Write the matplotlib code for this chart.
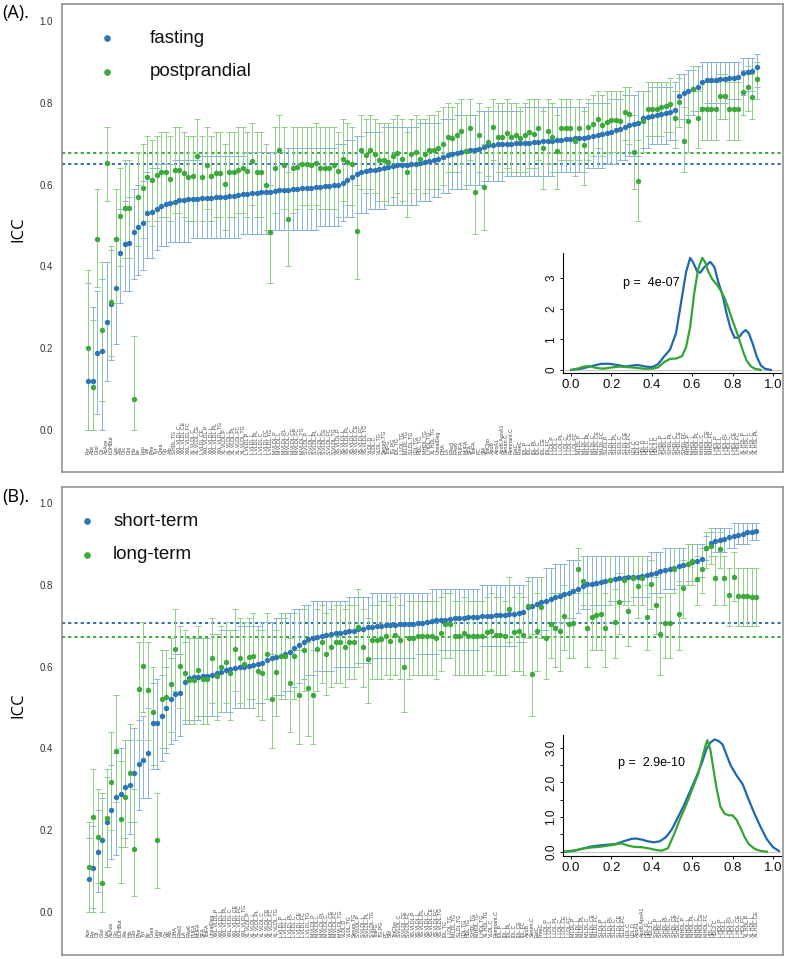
import numpy as np
import matplotlib
matplotlib.use("Agg")
import matplotlib.pyplot as plt

# ---------------- panel A: fasting vs postprandial (sorted by fasting ICC) ----------------
fast_icc = [0.120, 0.120, 0.189, 0.192, 0.263, 0.308, 0.346, 0.432, 0.456, 0.458,
            0.485, 0.497, 0.505, 0.530, 0.534, 0.540, 0.548, 0.552, 0.555, 0.558,
            0.562, 0.563, 0.564, 0.565, 0.566, 0.567, 0.567, 0.568, 0.569, 0.570,
            0.571, 0.572, 0.573, 0.574, 0.576, 0.578, 0.579, 0.580, 0.581, 0.582,
            0.583, 0.585, 0.586, 0.587, 0.588, 0.589, 0.590, 0.591, 0.592, 0.593,
            0.594, 0.595, 0.596, 0.597, 0.598, 0.600, 0.605, 0.612, 0.618, 0.626,
            0.630, 0.633, 0.635, 0.637, 0.639, 0.641, 0.643, 0.645, 0.647, 0.648,
            0.649, 0.650, 0.651, 0.653, 0.655, 0.658, 0.661, 0.664, 0.668, 0.672,
            0.675, 0.678, 0.680, 0.682, 0.684, 0.686, 0.688, 0.692, 0.697, 0.698,
            0.699, 0.699, 0.700, 0.700, 0.701, 0.701, 0.702, 0.703, 0.704, 0.705,
            0.706, 0.707, 0.708, 0.709, 0.710, 0.711, 0.712, 0.713, 0.714, 0.715,
            0.717, 0.719, 0.721, 0.724, 0.727, 0.730, 0.733, 0.737, 0.742, 0.746,
            0.748, 0.752, 0.762, 0.766, 0.768, 0.770, 0.772, 0.775, 0.778, 0.782,
            0.817, 0.824, 0.828, 0.833, 0.838, 0.852, 0.855, 0.856, 0.857, 0.858,
            0.859, 0.860, 0.861, 0.863, 0.873, 0.876, 0.878, 0.888]
fast_lo = [0.00, 0.00, 0.04, 0.00, 0.12, 0.17, 0.21, 0.31, 0.34, 0.34,
           0.37, 0.38, 0.39, 0.42, 0.42, 0.44, 0.45, 0.45, 0.46, 0.46,
           0.46, 0.46, 0.46, 0.47, 0.47, 0.47, 0.47, 0.47, 0.47, 0.47,
           0.47, 0.47, 0.47, 0.47, 0.48, 0.48, 0.48, 0.48, 0.48, 0.48,
           0.48, 0.49, 0.49, 0.49, 0.49, 0.49, 0.49, 0.49, 0.49, 0.49,
           0.49, 0.50, 0.50, 0.50, 0.50, 0.50, 0.51, 0.52, 0.52, 0.53,
           0.53, 0.53, 0.54, 0.54, 0.54, 0.54, 0.55, 0.55, 0.55, 0.55,
           0.55, 0.55, 0.55, 0.56, 0.56, 0.56, 0.57, 0.57, 0.58, 0.58,
           0.59, 0.59, 0.59, 0.60, 0.60, 0.60, 0.60, 0.61, 0.61, 0.61,
           0.61, 0.61, 0.62, 0.62, 0.62, 0.62, 0.62, 0.62, 0.62, 0.62,
           0.62, 0.62, 0.62, 0.63, 0.63, 0.63, 0.63, 0.63, 0.63, 0.63,
           0.64, 0.64, 0.64, 0.64, 0.65, 0.65, 0.65, 0.66, 0.66, 0.67,
           0.67, 0.67, 0.69, 0.69, 0.70, 0.70, 0.70, 0.70, 0.71, 0.71,
           0.76, 0.76, 0.77, 0.77, 0.78, 0.79, 0.80, 0.80, 0.80, 0.80,
           0.80, 0.81, 0.81, 0.81, 0.82, 0.83, 0.83, 0.84]
fast_hi = [0.36, 0.30, 0.34, 0.37, 0.41, 0.44, 0.47, 0.54, 0.56, 0.57,
           0.59, 0.60, 0.61, 0.63, 0.64, 0.64, 0.65, 0.65, 0.65, 0.66,
           0.66, 0.66, 0.66, 0.66, 0.66, 0.67, 0.67, 0.67, 0.67, 0.67,
           0.67, 0.67, 0.67, 0.67, 0.67, 0.68, 0.68, 0.68, 0.68, 0.68,
           0.68, 0.68, 0.68, 0.68, 0.69, 0.69, 0.69, 0.69, 0.69, 0.69,
           0.69, 0.69, 0.69, 0.69, 0.69, 0.70, 0.70, 0.71, 0.71, 0.72,
           0.72, 0.73, 0.73, 0.73, 0.73, 0.74, 0.74, 0.74, 0.74, 0.74,
           0.74, 0.74, 0.74, 0.75, 0.75, 0.75, 0.75, 0.75, 0.76, 0.76,
           0.76, 0.77, 0.77, 0.77, 0.77, 0.77, 0.78, 0.78, 0.78, 0.78,
           0.78, 0.78, 0.78, 0.78, 0.78, 0.78, 0.79, 0.79, 0.79, 0.79,
           0.79, 0.79, 0.79, 0.79, 0.79, 0.79, 0.79, 0.79, 0.79, 0.79,
           0.80, 0.80, 0.80, 0.80, 0.80, 0.81, 0.81, 0.81, 0.82, 0.82,
           0.82, 0.83, 0.83, 0.83, 0.84, 0.84, 0.84, 0.84, 0.84, 0.85,
           0.87, 0.87, 0.88, 0.88, 0.89, 0.90, 0.90, 0.90, 0.90, 0.90,
           0.90, 0.90, 0.90, 0.90, 0.91, 0.91, 0.91, 0.92]
post_icc = [0.201, 0.104, 0.467, 0.244, 0.654, 0.314, 0.466, 0.523, 0.544, 0.544,
            0.075, 0.570, 0.591, 0.619, 0.611, 0.623, 0.632, 0.630, 0.615, 0.635,
            0.637, 0.628, 0.619, 0.621, 0.670, 0.619, 0.648, 0.621, 0.628, 0.628,
            0.601, 0.632, 0.632, 0.636, 0.640, 0.634, 0.658, 0.632, 0.632, 0.599,
            0.485, 0.640, 0.685, 0.648, 0.515, 0.640, 0.644, 0.650, 0.650, 0.648,
            0.654, 0.641, 0.641, 0.641, 0.648, 0.633, 0.662, 0.656, 0.650, 0.487,
            0.685, 0.672, 0.685, 0.676, 0.660, 0.660, 0.656, 0.670, 0.678, 0.662,
            0.632, 0.675, 0.680, 0.662, 0.676, 0.685, 0.685, 0.689, 0.699, 0.717,
            0.713, 0.721, 0.731, 0.683, 0.738, 0.583, 0.721, 0.595, 0.705, 0.742,
            0.716, 0.717, 0.727, 0.717, 0.721, 0.713, 0.721, 0.729, 0.725, 0.738,
            0.689, 0.731, 0.717, 0.682, 0.738, 0.738, 0.738, 0.707, 0.738, 0.697,
            0.742, 0.748, 0.760, 0.746, 0.754, 0.758, 0.758, 0.756, 0.778, 0.774,
            0.680, 0.609, 0.756, 0.786, 0.786, 0.786, 0.789, 0.792, 0.797, 0.764,
            0.802, 0.707, 0.755, 0.835, 0.764, 0.784, 0.784, 0.784, 0.784, 0.817,
            0.817, 0.784, 0.784, 0.784, 0.827, 0.839, 0.815, 0.858]
post_lo = [0.00, 0.00, 0.35, 0.07, 0.56, 0.18, 0.31, 0.40, 0.42, 0.42,
           0.00, 0.45, 0.47, 0.51, 0.50, 0.51, 0.52, 0.52, 0.51, 0.53,
           0.53, 0.52, 0.51, 0.51, 0.57, 0.51, 0.54, 0.51, 0.52, 0.52,
           0.49, 0.52, 0.52, 0.53, 0.53, 0.52, 0.55, 0.52, 0.52, 0.49,
           0.36, 0.53, 0.59, 0.54, 0.40, 0.53, 0.54, 0.55, 0.55, 0.54,
           0.55, 0.54, 0.54, 0.54, 0.54, 0.52, 0.56, 0.55, 0.55, 0.37,
           0.59, 0.58, 0.59, 0.58, 0.56, 0.56, 0.55, 0.57, 0.58, 0.56,
           0.52, 0.58, 0.59, 0.56, 0.58, 0.59, 0.59, 0.59, 0.60, 0.63,
           0.63, 0.63, 0.65, 0.59, 0.66, 0.48, 0.63, 0.49, 0.62, 0.66,
           0.63, 0.63, 0.64, 0.63, 0.63, 0.63, 0.63, 0.64, 0.64, 0.66,
           0.59, 0.65, 0.63, 0.59, 0.66, 0.66, 0.66, 0.62, 0.66, 0.60,
           0.66, 0.67, 0.69, 0.67, 0.68, 0.68, 0.68, 0.68, 0.71, 0.70,
           0.59, 0.51, 0.68, 0.72, 0.72, 0.72, 0.72, 0.73, 0.73, 0.69,
           0.74, 0.63, 0.68, 0.78, 0.69, 0.71, 0.71, 0.71, 0.71, 0.76,
           0.76, 0.71, 0.71, 0.71, 0.77, 0.78, 0.76, 0.81]
post_hi = [0.39, 0.27, 0.59, 0.41, 0.74, 0.45, 0.59, 0.64, 0.66, 0.66,
           0.23, 0.68, 0.70, 0.72, 0.71, 0.72, 0.73, 0.73, 0.72, 0.74,
           0.74, 0.73, 0.72, 0.72, 0.76, 0.72, 0.74, 0.72, 0.73, 0.73,
           0.70, 0.73, 0.73, 0.74, 0.74, 0.73, 0.75, 0.73, 0.73, 0.70,
           0.60, 0.74, 0.77, 0.74, 0.63, 0.74, 0.74, 0.74, 0.74, 0.74,
           0.75, 0.74, 0.74, 0.74, 0.74, 0.73, 0.76, 0.75, 0.74, 0.60,
           0.77, 0.76, 0.77, 0.76, 0.75, 0.75, 0.75, 0.76, 0.77, 0.76,
           0.73, 0.76, 0.77, 0.76, 0.76, 0.77, 0.77, 0.78, 0.79, 0.80,
           0.79, 0.80, 0.81, 0.77, 0.81, 0.69, 0.80, 0.70, 0.79, 0.81,
           0.80, 0.80, 0.81, 0.80, 0.80, 0.79, 0.80, 0.81, 0.81, 0.81,
           0.78, 0.81, 0.80, 0.77, 0.81, 0.81, 0.81, 0.79, 0.81, 0.78,
           0.81, 0.82, 0.83, 0.82, 0.83, 0.83, 0.83, 0.83, 0.84, 0.84,
           0.77, 0.71, 0.83, 0.85, 0.85, 0.85, 0.85, 0.85, 0.86, 0.83,
           0.86, 0.79, 0.83, 0.89, 0.83, 0.85, 0.85, 0.85, 0.85, 0.87,
           0.87, 0.85, 0.85, 0.85, 0.88, 0.89, 0.87, 0.90]
labels_a = ["Pyr", "Ace", "Glol", "Cit", "AcAce", "bOHBut", "Lac", "Ala", "Glc", "Gln",
            "His", "Ile", "Leu", "Val", "Phe", "Tyr", "Crea", "Gp", "Alb", "S.HDL.TG",
            "XXL.VLDL.C", "XXL.VLDL.CE", "XXL.VLDL.FC", "XL.VLDL.C", "XL.VLDL.CE", "L.VLDL.CE", "XXL.VLDL.P", "XXL.VLDL.L", "XXL.VLDL.PL", "XXL.VLDL.TG",
            "XL.VLDL.P", "XL.VLDL.L", "XL.VLDL.PL", "XL.VLDL.FC", "XL.VLDL.TG", "L.VLDL.P", "L.VLDL.L", "L.VLDL.PL", "L.VLDL.C", "L.VLDL.FC",
            "L.VLDL.TG", "M.VLDL.P", "M.VLDL.L", "M.VLDL.PL", "M.VLDL.C", "M.VLDL.CE", "M.VLDL.FC", "M.VLDL.TG", "S.VLDL.P", "S.VLDL.L",
            "S.VLDL.PL", "S.VLDL.C", "S.VLDL.CE", "S.VLDL.FC", "S.VLDL.TG", "XS.VLDL.P", "XS.VLDL.L", "XS.VLDL.PL", "XS.VLDL.C", "XS.VLDL.CE",
            "XS.VLDL.FC", "XS.VLDL.TG", "VLDL.D", "VLDL.C", "VLDL.TG", "Serum.TG", "TotPG", "TG.PG", "IDL.TG", "L.LDL.TG",
            "M.LDL.TG", "S.LDL.TG", "LDL.TG", "HDL.TG", "M.HDL.TG", "L.HDL.TG", "XL.HDL.TG", "UnsatDeg", "DHA", "LA",
            "FAw3", "FAw6", "PUFA", "MUFA", "SFA", "TotFA", "PC", "SM", "TotCho", "ApoB",
            "ApoA1", "ApoB.ApoA1", "Serum.C", "Remnant.C", "EstC", "FreeC", "IDL.P", "IDL.L", "IDL.PL", "IDL.C",
            "IDL.CE", "IDL.FC", "L.LDL.P", "L.LDL.L", "L.LDL.PL", "L.LDL.C", "L.LDL.CE", "L.LDL.FC", "M.LDL.P", "M.LDL.L",
            "M.LDL.PL", "M.LDL.C", "M.LDL.CE", "M.LDL.FC", "S.LDL.P", "S.LDL.L", "S.LDL.PL", "S.LDL.C", "S.LDL.CE", "S.LDL.FC",
            "LDL.C", "LDL.D", "HDL.D", "HDL.C", "HDL2.C", "HDL3.C", "S.HDL.P", "S.HDL.L", "S.HDL.PL", "S.HDL.C",
            "S.HDL.CE", "S.HDL.FC", "M.HDL.P", "M.HDL.L", "M.HDL.PL", "M.HDL.C", "M.HDL.CE", "M.HDL.FC", "L.HDL.P", "L.HDL.L",
            "L.HDL.PL", "L.HDL.C", "L.HDL.CE", "L.HDL.FC", "XL.HDL.P", "XL.HDL.L", "XL.HDL.C", "XL.HDL.PL"]
mean_fast = 0.650
mean_post = 0.678
p_a = "p =  4e-07"

# density curves of the inset
dens_a_fast_x = [0.00, 0.05, 0.10, 0.15, 0.19, 0.23, 0.27, 0.30, 0.33, 0.37, 0.40, 0.43,
                 0.46, 0.49, 0.52, 0.55, 0.57, 0.59, 0.605, 0.625, 0.64, 0.66, 0.69,
                 0.71, 0.73, 0.75, 0.77, 0.79, 0.81, 0.83, 0.85, 0.865, 0.88, 0.90,
                 0.92, 0.94, 0.96, 0.99]
dens_a_fast_y = [0.00, 0.04, 0.12, 0.20, 0.20, 0.16, 0.11, 0.14, 0.16, 0.11, 0.09, 0.18,
                 0.43, 0.66, 1.20, 2.40, 3.20, 3.65, 3.50, 3.20, 3.17, 3.35, 3.52,
                 3.35, 2.85, 2.45, 1.85, 1.35, 1.05, 1.05, 1.22, 1.30, 1.20, 0.85,
                 0.43, 0.15, 0.04, 0.00]
dens_a_post_x = [0.00, 0.03, 0.06, 0.09, 0.12, 0.16, 0.20, 0.24, 0.28, 0.32, 0.36, 0.40,
                 0.43, 0.46, 0.49, 0.52, 0.55, 0.57, 0.59, 0.61, 0.63, 0.65, 0.665,
                 0.68, 0.70, 0.72, 0.74, 0.76, 0.78, 0.80, 0.82, 0.84, 0.855, 0.87,
                 0.89, 0.91, 0.94]
dens_a_post_y = [0.00, 0.04, 0.10, 0.13, 0.07, 0.04, 0.08, 0.11, 0.09, 0.07, 0.04, 0.04,
                 0.08, 0.25, 0.36, 0.37, 0.45, 0.75, 1.40, 2.50, 3.30, 3.65, 3.50,
                 3.20, 2.95, 2.80, 2.60, 2.35, 2.00, 1.60, 1.25, 0.85, 0.55, 0.30,
                 0.12, 0.04, 0.00]

# ---------------- panel B: short-term vs long-term (sorted by short-term ICC) ----------------
short_icc = [0.082, 0.108, 0.148, 0.176, 0.221, 0.249, 0.281, 0.288, 0.305, 0.310,
             0.339, 0.362, 0.372, 0.390, 0.461, 0.463, 0.479, 0.499, 0.522, 0.532,
             0.535, 0.563, 0.571, 0.574, 0.575, 0.576, 0.577, 0.580, 0.584, 0.588,
             0.592, 0.595, 0.597, 0.599, 0.600, 0.602, 0.604, 0.606, 0.610, 0.616,
             0.620, 0.623, 0.627, 0.631, 0.636, 0.645, 0.652, 0.660, 0.667, 0.670,
             0.673, 0.676, 0.678, 0.680, 0.681, 0.683, 0.684, 0.686, 0.688, 0.691,
             0.693, 0.696, 0.698, 0.699, 0.700, 0.701, 0.702, 0.702, 0.703, 0.704,
             0.704, 0.705, 0.706, 0.707, 0.709, 0.711, 0.713, 0.714, 0.715, 0.716,
             0.718, 0.719, 0.720, 0.721, 0.722, 0.722, 0.723, 0.724, 0.724, 0.725,
             0.725, 0.726, 0.728, 0.729, 0.731, 0.734, 0.745, 0.749, 0.753, 0.757,
             0.761, 0.765, 0.769, 0.773, 0.777, 0.781, 0.785, 0.789, 0.797, 0.801,
             0.803, 0.805, 0.807, 0.809, 0.811, 0.815, 0.816, 0.817, 0.818, 0.819,
             0.820, 0.822, 0.824, 0.827, 0.830, 0.833, 0.836, 0.839, 0.842, 0.846,
             0.849, 0.852, 0.856, 0.859, 0.862, 0.890, 0.903, 0.906, 0.909, 0.912,
             0.916, 0.920, 0.922, 0.925, 0.928, 0.930, 0.932]
short_lo = [0.00, 0.01, 0.05, 0.07, 0.11, 0.13, 0.14, 0.16, 0.18, 0.19,
            0.22, 0.25, 0.28, 0.28, 0.35, 0.35, 0.37, 0.39, 0.41, 0.42,
            0.43, 0.46, 0.47, 0.47, 0.47, 0.48, 0.48, 0.48, 0.48, 0.49,
            0.49, 0.49, 0.50, 0.50, 0.50, 0.50, 0.50, 0.51, 0.51, 0.52,
            0.52, 0.53, 0.53, 0.54, 0.54, 0.55, 0.56, 0.57, 0.58, 0.58,
            0.59, 0.59, 0.59, 0.59, 0.60, 0.60, 0.60, 0.60, 0.60, 0.61,
            0.61, 0.61, 0.62, 0.62, 0.62, 0.62, 0.62, 0.62, 0.62, 0.62,
            0.62, 0.62, 0.63, 0.63, 0.63, 0.63, 0.63, 0.64, 0.64, 0.64,
            0.64, 0.64, 0.64, 0.64, 0.64, 0.64, 0.65, 0.65, 0.65, 0.65,
            0.65, 0.65, 0.65, 0.65, 0.66, 0.66, 0.67, 0.68, 0.68, 0.69,
            0.69, 0.70, 0.70, 0.71, 0.71, 0.72, 0.72, 0.73, 0.74, 0.74,
            0.75, 0.75, 0.75, 0.75, 0.76, 0.76, 0.76, 0.76, 0.76, 0.77,
            0.77, 0.77, 0.77, 0.78, 0.78, 0.78, 0.79, 0.79, 0.79, 0.80,
            0.80, 0.81, 0.81, 0.81, 0.82, 0.86, 0.87, 0.88, 0.88, 0.88,
            0.89, 0.89, 0.90, 0.90, 0.90, 0.91, 0.91]
short_hi = [0.18, 0.21, 0.25, 0.28, 0.33, 0.36, 0.39, 0.40, 0.42, 0.42,
            0.45, 0.47, 0.48, 0.50, 0.56, 0.57, 0.58, 0.60, 0.62, 0.63,
            0.63, 0.66, 0.67, 0.67, 0.67, 0.67, 0.67, 0.68, 0.68, 0.69,
            0.69, 0.69, 0.69, 0.70, 0.70, 0.70, 0.70, 0.70, 0.71, 0.71,
            0.71, 0.72, 0.72, 0.72, 0.73, 0.74, 0.74, 0.75, 0.75, 0.76,
            0.76, 0.76, 0.76, 0.76, 0.76, 0.76, 0.76, 0.77, 0.77, 0.77,
            0.77, 0.77, 0.78, 0.78, 0.78, 0.78, 0.78, 0.78, 0.78, 0.78,
            0.78, 0.78, 0.78, 0.78, 0.78, 0.79, 0.79, 0.79, 0.79, 0.79,
            0.79, 0.79, 0.79, 0.79, 0.79, 0.79, 0.80, 0.80, 0.80, 0.80,
            0.80, 0.80, 0.80, 0.80, 0.80, 0.80, 0.81, 0.82, 0.82, 0.82,
            0.84, 0.84, 0.85, 0.85, 0.85, 0.86, 0.86, 0.86, 0.87, 0.87,
            0.87, 0.87, 0.87, 0.87, 0.87, 0.87, 0.87, 0.87, 0.87, 0.87,
            0.87, 0.87, 0.87, 0.88, 0.88, 0.88, 0.89, 0.89, 0.89, 0.89,
            0.89, 0.90, 0.90, 0.90, 0.90, 0.92, 0.93, 0.94, 0.94, 0.94,
            0.94, 0.95, 0.95, 0.95, 0.95, 0.95, 0.95]
long_icc = [0.111, 0.233, 0.184, 0.072, 0.229, 0.317, 0.393, 0.227, 0.282, 0.341,
            0.153, 0.544, 0.601, 0.543, 0.488, 0.177, 0.522, 0.525, 0.557, 0.642,
            0.602, 0.584, 0.567, 0.567, 0.592, 0.569, 0.569, 0.620, 0.577, 0.600,
            0.612, 0.584, 0.642, 0.620, 0.606, 0.623, 0.626, 0.590, 0.584, 0.630,
            0.521, 0.588, 0.626, 0.626, 0.559, 0.626, 0.531, 0.641, 0.547, 0.531,
            0.642, 0.659, 0.632, 0.649, 0.659, 0.659, 0.647, 0.661, 0.661, 0.698,
            0.647, 0.618, 0.665, 0.665, 0.667, 0.675, 0.663, 0.677, 0.665, 0.598,
            0.669, 0.671, 0.675, 0.676, 0.676, 0.676, 0.669, 0.683, 0.704, 0.704,
            0.676, 0.676, 0.681, 0.676, 0.676, 0.676, 0.676, 0.685, 0.688, 0.677,
            0.677, 0.675, 0.740, 0.685, 0.688, 0.677, 0.747, 0.582, 0.688, 0.745,
            0.669, 0.703, 0.694, 0.688, 0.724, 0.704, 0.707, 0.838, 0.810, 0.695,
            0.722, 0.726, 0.729, 0.694, 0.812, 0.709, 0.759, 0.812, 0.737, 0.816,
            0.798, 0.816, 0.722, 0.802, 0.751, 0.679, 0.706, 0.706, 0.838, 0.728,
            0.792, 0.851, 0.857, 0.813, 0.838, 0.889, 0.895, 0.816, 0.888, 0.816,
            0.774, 0.820, 0.773, 0.773, 0.773, 0.770, 0.769]
long_lo = [0.00, 0.00, 0.07, 0.00, 0.11, 0.20, 0.27, 0.07, 0.16, 0.22,
           0.04, 0.42, 0.49, 0.42, 0.36, 0.06, 0.40, 0.40, 0.44, 0.54,
           0.50, 0.47, 0.46, 0.46, 0.48, 0.46, 0.46, 0.51, 0.47, 0.49,
           0.51, 0.47, 0.54, 0.51, 0.50, 0.52, 0.52, 0.48, 0.47, 0.52,
           0.40, 0.48, 0.52, 0.52, 0.44, 0.52, 0.41, 0.54, 0.43, 0.41,
           0.54, 0.56, 0.53, 0.55, 0.56, 0.56, 0.55, 0.57, 0.57, 0.60,
           0.55, 0.51, 0.57, 0.57, 0.57, 0.58, 0.57, 0.58, 0.57, 0.49,
           0.57, 0.58, 0.58, 0.58, 0.58, 0.58, 0.57, 0.59, 0.62, 0.62,
           0.58, 0.58, 0.58, 0.58, 0.58, 0.58, 0.58, 0.59, 0.59, 0.58,
           0.58, 0.58, 0.66, 0.59, 0.59, 0.58, 0.67, 0.48, 0.59, 0.67,
           0.57, 0.62, 0.60, 0.59, 0.64, 0.62, 0.62, 0.78, 0.75, 0.60,
           0.64, 0.64, 0.64, 0.60, 0.75, 0.62, 0.68, 0.75, 0.65, 0.75,
           0.72, 0.75, 0.64, 0.74, 0.68, 0.58, 0.62, 0.62, 0.78, 0.64,
           0.72, 0.80, 0.80, 0.75, 0.78, 0.84, 0.85, 0.75, 0.84, 0.75,
           0.70, 0.76, 0.70, 0.70, 0.70, 0.70, 0.70]
long_hi = [0.22, 0.35, 0.30, 0.29, 0.35, 0.44, 0.53, 0.37, 0.42, 0.46,
           0.30, 0.66, 0.71, 0.66, 0.60, 0.29, 0.64, 0.64, 0.67, 0.74,
           0.70, 0.69, 0.67, 0.67, 0.70, 0.67, 0.67, 0.72, 0.68, 0.70,
           0.71, 0.69, 0.74, 0.72, 0.71, 0.72, 0.73, 0.69, 0.69, 0.73,
           0.63, 0.69, 0.73, 0.73, 0.67, 0.73, 0.64, 0.74, 0.66, 0.64,
           0.74, 0.75, 0.73, 0.74, 0.75, 0.75, 0.74, 0.75, 0.75, 0.79,
           0.74, 0.72, 0.75, 0.75, 0.76, 0.76, 0.75, 0.77, 0.75, 0.70,
           0.76, 0.76, 0.76, 0.76, 0.76, 0.76, 0.76, 0.77, 0.78, 0.78,
           0.76, 0.76, 0.77, 0.76, 0.76, 0.76, 0.76, 0.77, 0.78, 0.77,
           0.77, 0.76, 0.82, 0.77, 0.78, 0.77, 0.82, 0.68, 0.78, 0.82,
           0.76, 0.78, 0.78, 0.78, 0.80, 0.78, 0.79, 0.89, 0.87, 0.78,
           0.80, 0.80, 0.81, 0.78, 0.87, 0.79, 0.83, 0.87, 0.82, 0.87,
           0.87, 0.87, 0.80, 0.86, 0.82, 0.77, 0.78, 0.78, 0.89, 0.81,
           0.86, 0.90, 0.90, 0.87, 0.89, 0.93, 0.94, 0.87, 0.93, 0.87,
           0.84, 0.88, 0.84, 0.84, 0.84, 0.84, 0.84]
labels_b = ["Ace", "Pyr", "Cit", "Glol", "Lac", "AcAce", "Glc", "bOHBut", "Ala", "His",
            "Gln", "Phe", "Tyr", "Ile", "Crea", "Leu", "Val", "Gp", "Alb", "DHA",
            "FAw3", "LA", "FAw6", "PUFA", "MUFA", "SFA", "TotFA", "UnsatDeg", "XXL.VLDL.P", "XXL.VLDL.L",
            "XXL.VLDL.PL", "XXL.VLDL.C", "XXL.VLDL.CE", "XXL.VLDL.FC", "XXL.VLDL.TG", "XL.VLDL.P", "XL.VLDL.L", "XL.VLDL.PL", "XL.VLDL.C", "XL.VLDL.CE",
            "XL.VLDL.FC", "XL.VLDL.TG", "L.VLDL.P", "L.VLDL.L", "L.VLDL.PL", "L.VLDL.C", "L.VLDL.CE", "L.VLDL.FC", "L.VLDL.TG", "M.VLDL.P",
            "M.VLDL.L", "M.VLDL.PL", "M.VLDL.C", "M.VLDL.CE", "M.VLDL.FC", "M.VLDL.TG", "VLDL.D", "VLDL.TG", "Serum.TG", "S.VLDL.P",
            "S.VLDL.L", "S.VLDL.PL", "S.VLDL.TG", "TotPG", "TG.PG", "PC", "SM", "TotCho", "S.VLDL.C", "S.VLDL.CE",
            "S.VLDL.FC", "XS.VLDL.P", "XS.VLDL.L", "XS.VLDL.PL", "XS.VLDL.C", "XS.VLDL.CE", "XS.VLDL.FC", "XS.VLDL.TG", "IDL.TG", "L.LDL.TG",
            "M.LDL.TG", "S.LDL.TG", "LDL.TG", "HDL.TG", "S.HDL.TG", "M.HDL.TG", "L.HDL.TG", "XL.HDL.TG", "VLDL.C", "Remnant.C",
            "IDL.P", "IDL.L", "IDL.PL", "IDL.C", "IDL.CE", "IDL.FC", "ApoB", "Serum.C", "EstC", "FreeC",
            "L.LDL.P", "L.LDL.L", "L.LDL.PL", "L.LDL.C", "L.LDL.CE", "L.LDL.FC", "M.LDL.P", "M.LDL.L", "M.LDL.PL", "M.LDL.C",
            "M.LDL.CE", "M.LDL.FC", "S.LDL.P", "S.LDL.L", "S.LDL.PL", "S.LDL.C", "S.LDL.CE", "S.LDL.FC", "LDL.C", "LDL.D",
            "ApoA1", "ApoB.ApoA1", "HDL.D", "HDL3.C", "S.HDL.P", "S.HDL.L", "S.HDL.PL", "S.HDL.C", "S.HDL.CE", "S.HDL.FC",
            "M.HDL.P", "M.HDL.L", "M.HDL.PL", "M.HDL.C", "M.HDL.CE", "M.HDL.FC", "HDL.C", "HDL2.C", "L.HDL.P", "L.HDL.L",
            "L.HDL.PL", "L.HDL.C", "L.HDL.CE", "L.HDL.FC", "XL.HDL.P", "XL.HDL.L", "XL.HDL.CE"]
mean_short = 0.706
mean_long = 0.673
p_b = "p =  2.9e-10"

dens_b_short_x = [-0.03, 0.02, 0.06, 0.10, 0.14, 0.18, 0.22, 0.26, 0.30, 0.32, 0.35, 0.38,
                  0.41, 0.44, 0.47, 0.50, 0.53, 0.56, 0.59, 0.62, 0.65, 0.67, 0.69,
                  0.71, 0.73, 0.75, 0.77, 0.79, 0.82, 0.85, 0.88, 0.91, 0.94, 0.97,
                  1.00, 1.03]
dens_b_short_y = [0.00, 0.03, 0.09, 0.15, 0.18, 0.20, 0.22, 0.30, 0.37, 0.38, 0.35, 0.30,
                  0.27, 0.30, 0.42, 0.65, 1.00, 1.35, 1.75, 2.15, 2.60, 2.95, 3.15,
                  3.24, 3.20, 3.10, 2.80, 2.50, 2.20, 1.95, 1.50, 1.08, 0.70, 0.36,
                  0.13, 0.02]
dens_b_long_x = [-0.03, 0.02, 0.06, 0.10, 0.14, 0.18, 0.22, 0.25, 0.28, 0.31, 0.35, 0.39,
                 0.42, 0.45, 0.48, 0.51, 0.54, 0.57, 0.60, 0.63, 0.65, 0.665, 0.675,
                 0.69, 0.705, 0.72, 0.74, 0.76, 0.78, 0.80, 0.82, 0.84, 0.86, 0.88,
                 0.91, 0.94, 0.97]
dens_b_long_y = [0.00, 0.04, 0.09, 0.12, 0.14, 0.17, 0.21, 0.24, 0.18, 0.14, 0.13, 0.09,
                 0.05, 0.03, 0.10, 0.50, 0.95, 1.35, 1.80, 2.25, 2.70, 3.05, 3.22,
                 2.95, 2.40, 1.85, 1.30, 1.10, 1.05, 1.05, 0.92, 0.68, 0.42, 0.22,
                 0.08, 0.02, 0.00]

BLUE = "#2e75b6"
GREEN = "#3da83c"
BLUE_BAR = "#88b2dc"
GREEN_BAR = "#8fce87"
BLUE_LINE = "#1f68b0"
GREEN_LINE = "#33a532"
SANS = "Liberation Sans"

W, H = 787, 959
fig = plt.figure(figsize=(W / 100, H / 100), dpi=100)


def box(x0, y0, x1, y1):
    # pixel box measured from the top-left corner -> figure fraction
    return [x0 / W, 1 - y1 / H, (x1 - x0) / W, (y1 - y0) / H]


def main_panel(rect, ylim, s1, s2, labels, means, names, mark_x, text_x):
    ax = fig.add_axes(rect)
    x = np.arange(len(labels))
    for (icc, lo, hi), col in ((s1, BLUE_BAR), (s2, GREEN_BAR)):
        icc, lo, hi = np.asarray(icc), np.asarray(lo), np.asarray(hi)
        err = np.clip([icc - lo, hi - icc], 0, None)
        ax.errorbar(x, icc, yerr=err, fmt="none", ecolor=col, elinewidth=0.7,
                    capsize=2.3, capthick=0.7, zorder=2)
    ax.plot(x, s1[0], "o", color=BLUE, ms=3.9, mec="none", zorder=3)
    ax.plot(x, s2[0], "o", color=GREEN, ms=3.9, mec="none", zorder=4)
    for m, col in zip(means, ("#2f6fb0", "#39a639")):
        ax.axhline(m, color=col, lw=1.4, ls=(0, (1.6, 1.6)), zorder=1)
    for i, lab in enumerate(labels):
        ax.text(i, -0.06, lab, rotation=90, ha="center", va="bottom",
                fontsize=3.8, color="#444444", family=SANS)
    ax.set_xlim(-5.8, len(labels) + 4.8)
    ax.set_ylim(*ylim)
    ax.set_xticks([])
    ax.set_yticks([0, 0.2, 0.4, 0.6, 0.8, 1.0])
    ax.set_yticklabels(["0.0", "0.2", "0.4", "0.6", "0.8", "1.0"], family=SANS)
    ax.tick_params(axis="y", length=0, pad=6.5, labelsize=7, labelcolor="#333333")
    for sp in ax.spines.values():
        sp.set_color("#8a8a8a")
        sp.set_linewidth(1.1)
    # legend (no box)
    for (yy, col, name) in ((0.927, BLUE, names[0]), (0.855, GREEN, names[1])):
        ax.plot([mark_x], [yy], "o", color=col, ms=4.8, mec="none",
                transform=ax.transAxes, clip_on=False)
        ax.text(text_x, yy, name, transform=ax.transAxes, va="center", ha="left",
                fontsize=13.5, family=SANS, color="#111111")
    return ax


def inset(rect, ylim, yticks, yticklabels, c1, c2, p_text, p_xy):
    ia = fig.add_axes(rect, facecolor="none")
    ia.axhline(0, color="#c8c8c8", lw=0.8, zorder=1)
    for (cx, cy), col in ((c1, BLUE_LINE), (c2, GREEN_LINE)):
        ia.plot(cx, cy, color=col, lw=1.6, zorder=2, solid_joinstyle="round")
    ia.set_xlim(-0.04, 1.04)
    ia.set_ylim(*ylim)
    ia.set_xticks([0, 0.2, 0.4, 0.6, 0.8, 1.0])
    ia.set_xticklabels(["0.0", "0.2", "0.4", "0.6", "0.8", "1.0"], family=SANS, fontsize=9.5)
    ia.set_yticks(yticks)
    ia.set_yticklabels(yticklabels, family=SANS, fontsize=8.5, rotation=90, va="center")
    ia.tick_params(length=2.5, width=0.7, pad=1.5, colors="#111111")
    ia.spines["top"].set_visible(False)
    ia.spines["right"].set_visible(False)
    for s in ("left", "bottom"):
        ia.spines[s].set_linewidth(0.8)
    ia.text(p_xy[0], p_xy[1], p_text, ha="left", va="center", fontsize=9, family=SANS)
    return ia


main_panel(box(62, 4, 783, 472), (-0.103, 1.042),
           (fast_icc, fast_lo, fast_hi), (post_icc, post_lo, post_hi),
           labels_a, (mean_fast, mean_post), ("fasting", "postprandial"), 0.0624, 0.122)
inset(box(563, 253, 781, 373), (-0.1, 3.81), [0, 1, 2, 3], ["0", "1", "2", "3"],
      (dens_a_fast_x, dens_a_fast_y), (dens_a_post_x, dens_a_post_y), p_a, (0.257, 2.84))

main_panel(box(62, 487, 783, 955), (-0.105, 1.039),
           (short_icc, short_lo, short_hi), (long_icc, long_lo, long_hi),
           labels_b, (mean_short, mean_long), ("short-term", "long-term"), 0.034, 0.071)
inset(box(563, 735, 781, 856), (-0.125, 3.37), [0, 0.5, 1, 1.5, 2, 2.5, 3],
      ["0.0", "", "1.0", "", "2.0", "", "3.0"],
      (dens_b_short_x, dens_b_short_y), (dens_b_long_x, dens_b_long_y), p_b, (0.232, 2.56))

fig.text(2 / W, 1 - 13 / H, "(A).", ha="left", va="center", fontsize=13, family="Open Sans")
fig.text(2 / W, 1 - 497 / H, "(B).", ha="left", va="center", fontsize=13, family="Open Sans")
fig.text(18 / W, 1 - 229 / H, "ICC", rotation=90, ha="center", va="center", fontsize=12, family="Open Sans")
fig.text(18 / W, 1 - 705 / H, "ICC", rotation=90, ha="center", va="center", fontsize=12, family="Open Sans")

fig.savefig("out.png", dpi=100)
